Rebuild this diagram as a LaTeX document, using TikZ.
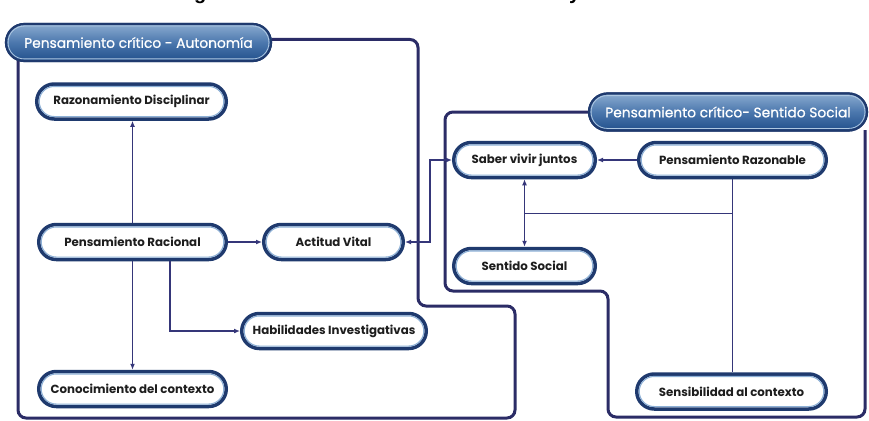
\documentclass[tikz,border=0pt]{standalone}
\usepackage{fontspec}
\setmainfont{Poppins}
\newfontfamily\titlefont{Liberation Sans}
\newfontfamily\headfont[FakeBold=0.7]{Poppins}
\usetikzlibrary{arrows.meta}

\definecolor{framenavy}{HTML}{2B2C66}
\definecolor{edgenavy}{HTML}{1F3A6E}
\definecolor{edgelight}{HTML}{8DB0D6}
\definecolor{linknavy}{HTML}{353679}
\definecolor{headtop}{HTML}{8AABD0}
\definecolor{headmid}{HTML}{4B77AD}
\definecolor{headbot}{HTML}{22508C}
\definecolor{labelink}{HTML}{1E1E1E}

\tikzset{
  idea/.style={rectangle, rounded corners=17.5pt, draw=edgenavy, line width=3.5pt,
    fill=white, minimum height=35pt, inner sep=0pt, text=labelink,
    font=\bfseries\fontsize{11.8}{13}\selectfont},
  header/.style={rectangle, rounded corners=18.5pt, draw=edgenavy, line width=2.2pt,
    top color=headtop, bottom color=headbot, middle color=headmid,
    minimum height=37pt, inner sep=0pt,
    text=white, font=\headfont\fontsize{13.8}{15}\selectfont},
  innerring/.style={edgelight, line width=1.1pt, rounded corners=15pt},
  headring/.style={edgelight!70!white, line width=0.8pt, rounded corners=16pt},
  frame/.style={framenavy, line width=3pt, rounded corners=8pt},
  link/.style={linknavy, line width=1.2pt, -{Latex[length=6pt,width=5pt]}},
  twoway/.style={linknavy, line width=1.2pt, {Latex[length=6pt,width=5pt]}-{Latex[length=6pt,width=5pt]}},
  plainlink/.style={linknavy, line width=0.9pt},
  caption/.style={anchor=base west, inner sep=0pt, text=black,
    font=\titlefont\bfseries\fontsize{20}{22}\selectfont},
}

\begin{document}
\begin{tikzpicture}[x=1pt,y=-1pt]
  \useasboundingbox (0,0) rectangle (869,420);
  \fill[white] (0,0) rectangle (869,420);

  % caption above the figure, cut by the top edge
  \begin{scope}
    \clip (0,0) rectangle (869,6);
    \node[caption] (title) at (194,0)
      {\llap{Fi}g\rlap{ura 2. Pensamiento crítico: autonomía}};
    \node[caption] (title2) at (569,0) {y sentido social};
  \end{scope}

  % group headers
  \node[header, minimum width=265pt] (h1) at (138.5,42.5) {Pensamiento crítico - Autonomía};
  \node[header, minimum width=278pt] (h2) at (728,112) {Pensamiento crítico- Sentido Social};

  % group frames
  \draw[frame] ([yshift=3pt]h1.east) -- (418,39.5) -- (418,306) -- (515,306)
     -- (515,418) -- (18,418) -- (18,60);
  \draw[frame] (h2.west) -- (445,112) -- (445,291) -- (608,291)
     -- (608,417) -- (865,417) -- (865,130);

  % redraw headers above the frame lines
  \node[header, minimum width=265pt] at (h1) {Pensamiento crítico - Autonomía};
  \node[header, minimum width=278pt] at (h2) {Pensamiento crítico- Sentido Social};
  \foreach \n in {h1,h2}
    \draw[headring] ([xshift=3.2pt,yshift=3.2pt]\n.south west)
      rectangle ([xshift=-3.2pt,yshift=-3.2pt]\n.north east);

  % autonomy group
  \node[idea, minimum width=189.5pt] (rd) at (131.5,101.5) {Razonamiento Disciplinar};
  \node[idea, minimum width=187.5pt] (pr) at (132.5,242) {Pensamiento Racional};
  \node[idea, minimum width=139.5pt] (av) at (333.5,242) {Actitud Vital};
  \node[idea, minimum width=184.5pt] (hi) at (334,331) {Habilidades Investigativas};
  \node[idea, minimum width=187.5pt] (cc) at (132.5,389) {Conocimiento del contexto};

  % social group
  \node[idea, minimum width=141.5pt] (sv) at (524.5,160) {Saber vivir juntos};
  \node[idea, minimum width=187.5pt] (pz) at (732.5,160) {Pensamiento Razonable};
  \node[idea, minimum width=141.5pt] (ss) at (524.5,266) {Sentido Social};
  \node[idea, minimum width=189.5pt] (sc) at (731.5,391.5) {Sensibilidad al contexto};

  \foreach \n in {rd,pr,av,hi,cc,sv,pz,ss,sc}
    \draw[innerring] ([xshift=4.2pt,yshift=4.2pt]\n.south west)
      rectangle ([xshift=-4.2pt,yshift=-4.2pt]\n.north east);

  % connectors
  \coordinate (jn) at (430,200);
  \coordinate (mid) at (600,213);
  \draw[link] (pr.north) -- (pr.north |- rd.south);
  \draw[link] (pr.east) -- (av.west);
  \draw[link] (pr.south) -- (pr.south |- cc.north);
  \draw[link] ([xshift=37.5pt]pr.south) |- (hi.west);
  \draw[twoway] (av.east) -| (jn) |- (sv.west);
  \draw[link] (pz.west) -- (sv.east);
  \draw[plainlink] (pz.south) -- (pz.south |- sc.north);
  \draw[plainlink] (pz.south |- mid) -- (sv.south |- mid);
  \draw[twoway] (sv.south) -- (ss.north);
\end{tikzpicture}
\end{document}
